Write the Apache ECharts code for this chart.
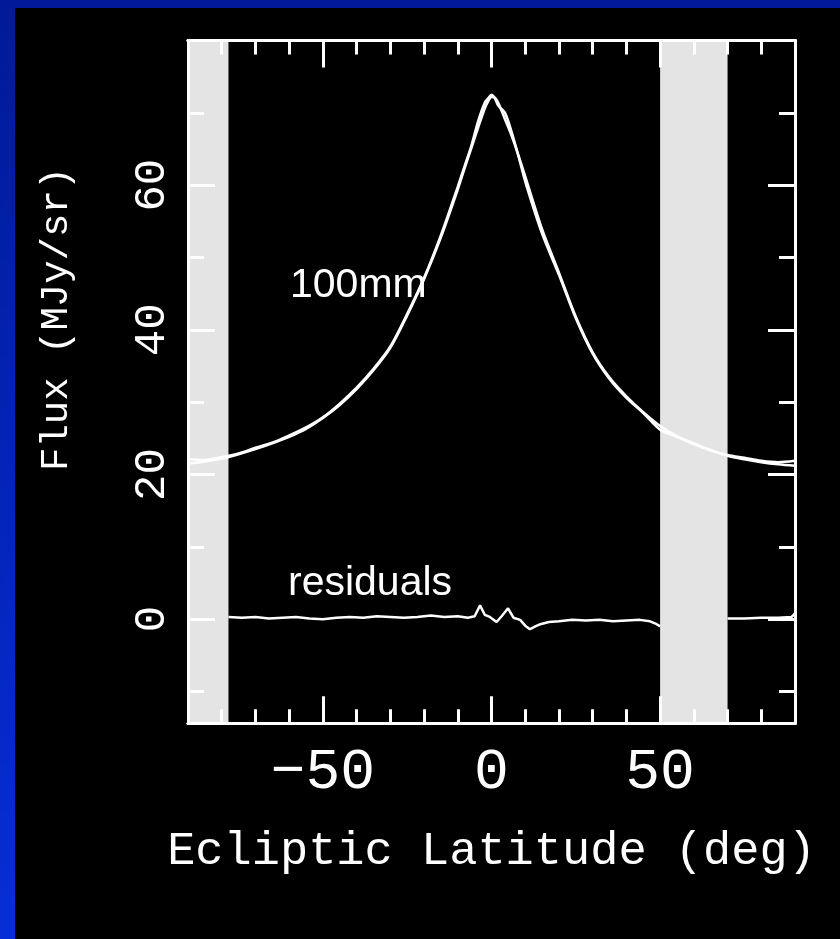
<!DOCTYPE html>
<html><head><meta charset="utf-8">
<script src="https://cdn.jsdelivr.net/npm/echarts@6/dist/echarts.min.js"></script>
<style>html,body{margin:0;padding:0;background:#000}#c{width:840px;height:939px}</style>
</head><body><div id="c"></div>
<script>
// ---- data ----
const modelLat  = [-90,-85,-80,-75,-70,-65,-60,-55,-50,-45,-40,-35,-30,-25,-20,-15,-10,-8,-6,-4,-2,-1,0,1,2,4,6,8,10,15,20,25,30,35,40,45,50,55,60,65,70,75,80,85,90];
const modelFlux = [21.5,21.8,22.2,22.8,23.5,24.3,25.2,26.3,27.8,29.6,31.8,34.4,37.5,42.0,47.0,52.8,59.4,62.3,65.1,67.9,70.6,71.6,72.2,72.1,71.4,69.1,66.8,64.1,61.2,53.9,47.9,41.8,36.9,33.4,30.8,28.6,26.7,25.3,24.3,23.4,22.6,22.1,21.7,21.4,21.2];
const dataLat   = [-90,-85,-80,-75,-70,-65,-60,-55,-50,-45,-40,-35,-30,-25,-20,-15,-10,-8,-6,-4,-2,-1,0,1,2,4,6,8,10,15,20,25,30,35,40,45,50,55,60,65,70,75,80,85,90];
const dataFlux  = [22.1,22.0,22.4,22.9,23.7,24.4,25.4,26.5,27.9,29.8,32.0,34.6,37.7,42.2,47.2,53.1,59.8,62.6,65.4,68.8,71.4,72.0,72.5,72.0,71.0,70.0,67.3,64.0,60.5,53.3,47.6,41.6,36.7,33.2,30.6,28.5,26.2,25.2,24.2,23.3,22.7,22.3,21.9,21.7,21.9];
const residLatLeft  = [-78,-74,-70,-66,-62,-58,-54,-50,-46,-42,-38,-34,-30,-26,-22,-18,-14,-10,-7,-5,-3.4,-2,-0.5,1.5,3,4.9,6.5,8.5,10,11.4,13,14.5,17,20,24,28,32,36,40,44,47,49,50];
const residLeft     = [0.3,0.2,0.3,0.1,0.2,0.3,0.1,0.0,0.2,0.3,0.2,0.4,0.3,0.2,0.3,0.5,0.3,0.4,0.2,0.4,1.9,0.6,0.3,-0.4,0.4,1.5,0.2,-0.1,-0.9,-1.4,-1.0,-0.7,-0.4,-0.3,-0.1,-0.2,-0.1,-0.3,-0.2,-0.1,-0.3,-0.7,-1.0];
const residLatRight = [70,75,80,85,89,90];
const residRight    = [0.1,0.1,0.2,0.2,0.3,0.8];
const maskBands   = [[-90,-78],[50,70]];
const xMajorTicks = [-50,0,50];
const xMinorTicks = [-80,-70,-60,-40,-30,-20,-10,10,20,30,40,60,70,80];
const yMajorTicks = [0,20,40,60];
const yMinorTicks = [-10,10,30,50,70];
const xRange = [-90,90];
const yRange = [-14.4,80];

const pairs = (xs, ys) => xs.map((x,i)=>[x, ys[i]]);
const MONO = '"Liberation Mono", "DejaVu Sans Mono", monospace';
const fmt = v => v < 0 ? '\u2212' + Math.abs(v) : String(v);

function xAx(pos, ticks, len, label) {
  return {
    type:'value', position:pos, min:xRange[0], max:xRange[1], z:10,
    axisLine:{show:true, onZero:false, lineStyle:{color:'#fff', width:3}},
    axisTick:{show:true, inside:true, length:len, customValues:ticks, lineStyle:{color:'#fff', width:3}},
    axisLabel: label ? {show:true, customValues:ticks, formatter:fmt, color:'#fff', fontFamily:MONO, fontSize:58, margin:20} : {show:false},
    splitLine:{show:false}
  };
}
function yAx(pos, ticks, len, label) {
  return {
    type:'value', position:pos, min:yRange[0], max:yRange[1], z:10,
    axisLine:{show:true, onZero:false, lineStyle:{color:'#fff', width:3}},
    axisTick:{show:true, inside:true, length:len, customValues:ticks, lineStyle:{color:'#fff', width:3}},
    axisLabel: label ? {show:true, customValues:ticks, formatter:fmt, rotate:90, color:'#fff', fontFamily:MONO, fontSize:44, margin:14} : {show:false},
    splitLine:{show:false}
  };
}

const xAxes = [xAx('bottom', xMinorTicks, 14, false), xAx('bottom', xMajorTicks, 27, true), xAx('top', xMinorTicks, 14, false), xAx('top', xMajorTicks, 27, false)];
xAxes[1].name = 'Ecliptic Latitude (deg)';
xAxes[1].nameLocation = 'middle';
xAxes[1].nameGap = 105;
xAxes[1].nameTextStyle = {color:'#fff', fontFamily:MONO, fontSize:47};

const yAxes = [yAx('left', yMinorTicks, 16, false), yAx('left', yMajorTicks, 27, true), yAx('right', yMinorTicks, 16, false), yAx('right', yMajorTicks, 27, false)];
yAxes[1].name = 'Flux (MJy/sr)';
yAxes[1].nameLocation = 'middle';
yAxes[1].nameGap = 112;
yAxes[1].nameRotate = 90;
yAxes[1].nameTextStyle = {color:'#fff', fontFamily:MONO, fontSize:39, padding:[0,0,0,126]};

const lineStyle = {color:'#fff', width:2.5};
const chart = echarts.init(document.getElementById('c'), null, {renderer:'canvas'});
chart.setOption({
  backgroundColor:'#000',
  animation:false,
  grid:{left:188, right:45, top:40.5, bottom:215.7, containLabel:false, outerBoundsMode:'none'},
  xAxis: xAxes,
  yAxis: yAxes,
  graphic:[
    {type:'rect', left:0, top:0, z:100, shape:{width:15, height:939},
      style:{fill:new echarts.graphic.LinearGradient(0,0,0,1,[{offset:0,color:'#001a98'},{offset:1,color:'#072ed6'}])}},
    {type:'rect', left:0, top:0, z:100, shape:{width:840, height:8}, style:{fill:'#001a98'}},
    {type:'text', left:290, top:265, z:20, style:{text:'100mm', fill:'#fff', font:'41px "Liberation Sans", Arial, sans-serif'}},
    {type:'text', left:288, top:563, z:20, style:{text:'residuals', fill:'#fff', font:'41px "Liberation Sans", Arial, sans-serif'}}
  ],
  series:[
    {name:'100mm model', type:'line', xAxisIndex:0, yAxisIndex:0, data:pairs(modelLat, modelFlux), showSymbol:false, smooth:0.3, lineStyle, z:3,
      markArea:{silent:true, itemStyle:{color:'#e4e4e4'}, data:maskBands.map(b=>[{xAxis:b[0]},{xAxis:b[1]}])}},
    {name:'100mm data', type:'line', xAxisIndex:0, yAxisIndex:0, data:pairs(dataLat, dataFlux), showSymbol:false, smooth:0.3, lineStyle, z:3},
    {name:'residuals', type:'line', xAxisIndex:0, yAxisIndex:0, data:pairs(residLatLeft, residLeft), showSymbol:false, lineStyle, z:3},
    {name:'residuals right', type:'line', xAxisIndex:0, yAxisIndex:0, data:pairs(residLatRight, residRight), showSymbol:false, lineStyle, z:3}
  ]
});
</script>
</body></html>
